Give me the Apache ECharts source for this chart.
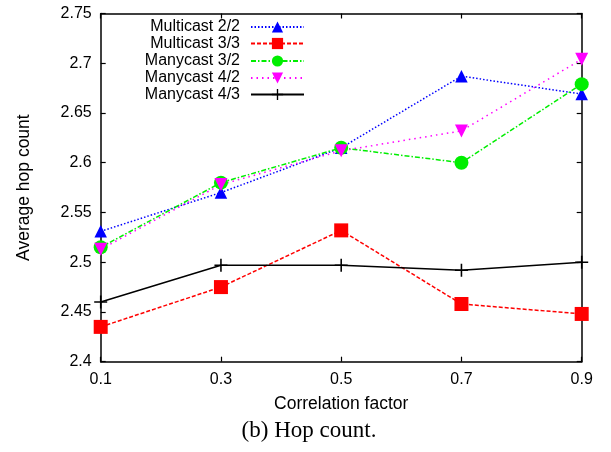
<!DOCTYPE html>
<html><head><meta charset="utf-8">
<script src="https://cdn.jsdelivr.net/npm/echarts@6/dist/echarts.min.js"></script>
<style>html,body{margin:0;padding:0;background:#fff}#c{width:611px;height:452px}</style>
</head><body><div id="c"></div>
<script>
const categories = ['0.1','0.3','0.5','0.7','0.9'];
const multicast22 = [2.531, 2.570, 2.615, 2.687, 2.669];
const multicast33 = [2.435, 2.475, 2.532, 2.458, 2.448];
const manycast32 = [2.515, 2.580, 2.615, 2.600, 2.679];
const manycast42 = [2.513, 2.578, 2.612, 2.632, 2.704];
const manycast43 = [2.460, 2.497, 2.497, 2.492, 2.500];
const seriesNames = ['Multicast 2/2','Multicast 3/3','Manycast 3/2','Manycast 4/2','Manycast 4/3'];

const FONT = 'Liberation Sans';
const plusPath = 'path://M0,4.4H10V5.6H0Z M4.4,0H5.6V10H4.4Z';
const downTri = 'path://M0,0L10,0L5,8.7Z';

const styles = [
  {color:'#0000ff', type:[1.5,2], symbol:'triangle', size:12.5, data:multicast22},
  {color:'#ff0000', type:[4,2], symbol:'rect', size:14, data:multicast33},
  {color:'#00ee00', type:[5,2,1.5,2], symbol:'circle', size:14, data:manycast32},
  {color:'#ff00ff', type:[1.5,4], symbol:downTri, size:13, data:manycast42},
  {color:'#000000', type:'solid', symbol:plusPath, size:13, data:manycast43}
];

const series = styles.map((s,i)=>({
  name: seriesNames[i], type:'line', data:s.data,
  symbol:s.symbol, symbolSize:s.size, showSymbol:true,
  lineStyle:{color:s.color, width:1.5, type:s.type},
  itemStyle:{color:s.color, opacity:1},
  emphasis:{disabled:true}, animation:false
}));

const legendRows = [27, 43.5, 61, 78, 94.5];
const legends = seriesNames.map((n,i)=>({
  data:[n], orient:'vertical', align:'right',
  right: 611-305, top: legendRows[i]-8,
  itemWidth:53, itemHeight:14, itemGap:0, padding:0,
  textStyle:{fontFamily:FONT, fontSize:16, color:'#000', padding:[0,6,0,0]},
  selectedMode:false
}));

const chart = echarts.init(document.getElementById('c'), null, {renderer:'canvas'});
chart.setOption({
  animation:false,
  backgroundColor:'#fff',
  title:{text:'(b) Hop count.', left:309, top:419, textAlign:'center', padding:0,
    textStyle:{fontFamily:'Liberation Serif', fontSize:23, fontWeight:'normal', color:'#000'}},
  legend: legends,
  grid:{left:100.7, right:29.3, top:13.5, bottom:90.3, containLabel:false},
  xAxis:[
    {type:'category', data:categories, boundaryGap:false,
     name:'Correlation factor', nameLocation:'middle', nameGap:33,
     nameTextStyle:{fontFamily:FONT, fontSize:17.5, color:'#000'},
     axisLine:{lineStyle:{color:'#000', width:1.5}},
     axisTick:{inside:true, length:5, lineStyle:{color:'#000', width:1.2}, alignWithLabel:true},
     axisLabel:{fontFamily:FONT, fontSize:16, color:'#000', margin:10},
     splitLine:{show:false}},
    {type:'category', data:categories, boundaryGap:false, position:'top',
     axisLine:{lineStyle:{color:'#000', width:1.5}},
     axisTick:{inside:true, length:5, lineStyle:{color:'#000', width:1.2}},
     axisLabel:{show:false}, splitLine:{show:false}}
  ],
  yAxis:[
    {type:'value', min:2.4, max:2.75, interval:0.05,
     name:'Average hop count', nameLocation:'middle', nameGap:68, nameRotate:90,
     nameTextStyle:{fontFamily:FONT, fontSize:17.5, color:'#000'},
     axisLine:{show:true, lineStyle:{color:'#000', width:1.5}},
     axisTick:{show:true, inside:true, length:5, lineStyle:{color:'#000', width:1.2}},
     axisLabel:{fontFamily:FONT, fontSize:16, color:'#000', margin:9,
       formatter:v=>String(Math.round(v*100)/100)},
     splitLine:{show:false}},
    {type:'value', min:2.4, max:2.75, interval:0.05, position:'right',
     axisLine:{show:true, lineStyle:{color:'#000', width:1.5}},
     axisTick:{show:true, inside:true, length:5, lineStyle:{color:'#000', width:1.2}},
     axisLabel:{show:false}, splitLine:{show:false}}
  ],
  series: series
});
</script></body></html>
